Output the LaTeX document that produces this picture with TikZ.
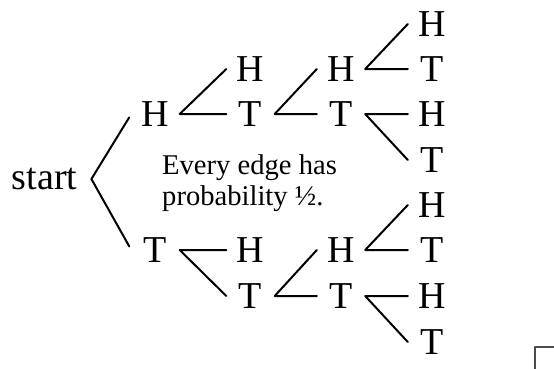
\documentclass[tikz,border=0pt]{standalone}
\usepackage{fontspec}
\setmainfont{Liberation Serif}
\begin{document}
\begin{tikzpicture}[x=1pt,y=-1pt,line cap=round,line join=round,
  coin/.style={inner sep=0pt,minimum width=48pt,font=\fontsize{38}{40}\selectfont},
  edge/.style={line width=2pt}]
  \useasboundingbox (0,0) rectangle (554,368);
  \node[inner sep=0pt,inner xsep=14pt,font=\fontsize{38}{40}\selectfont] (start) at (44.5,179) {start};
  % first toss
  \node[coin] (h) at (155.5,114) {H};
  \node[coin] (t) at (155.5,250) {T};
  % second toss
  \node[coin] (hh) at (250.5,69) {H};
  \node[coin] (ht) at (250.5,114) {T};
  \node[coin] (th) at (250.5,250) {H};
  \node[coin] (tt) at (250.5,296) {T};
  % third toss
  \node[coin] (hth) at (341,69) {H};
  \node[coin] (htt) at (341,114) {T};
  \node[coin] (tth) at (341,250) {H};
  \node[coin] (ttt) at (341,296) {T};
  % fourth toss
  \node[coin] (hthh) at (432,24) {H};
  \node[coin] (htht) at (432,69) {T};
  \node[coin] (htth) at (432,114) {H};
  \node[coin] (httt) at (432,160) {T};
  \node[coin] (tthh) at (432,205) {H};
  \node[coin] (ttht) at (432,250) {T};
  \node[coin] (ttth) at (432,296) {H};
  \node[coin] (tttt) at (432,342) {T};
  \draw[edge,shorten <=4pt] (h.west) -- (start.east);
  \draw[edge,shorten >=4pt] (start.east) -- (t.west);
  \draw[edge] (hh.west) -- (h.east) -- (ht.west);
  \draw[edge] (th.west) -- (t.east) -- (tt.west);
  \draw[edge] (hth.west) -- (ht.east) -- (htt.west);
  \draw[edge] (tth.west) -- (tt.east) -- (ttt.west);
  \draw[edge] (hthh.west) -- (hth.east) -- (htht.west);
  \draw[edge] (htth.west) -- (htt.east) -- (httt.west);
  \draw[edge] (tthh.west) -- (tth.east) -- (ttht.west);
  \draw[edge] (ttth.west) -- (ttt.east) -- (tttt.west);
  \node[inner sep=0pt,anchor=north west,align=left,
    font=\fontsize{28.6}{31}\selectfont] (note) at (162,154)
    {Every edge has\\probability ½.};
  \draw[line width=1.5pt,gray!60!black] (535,347) rectangle (557,371);
\end{tikzpicture}
\end{document}
